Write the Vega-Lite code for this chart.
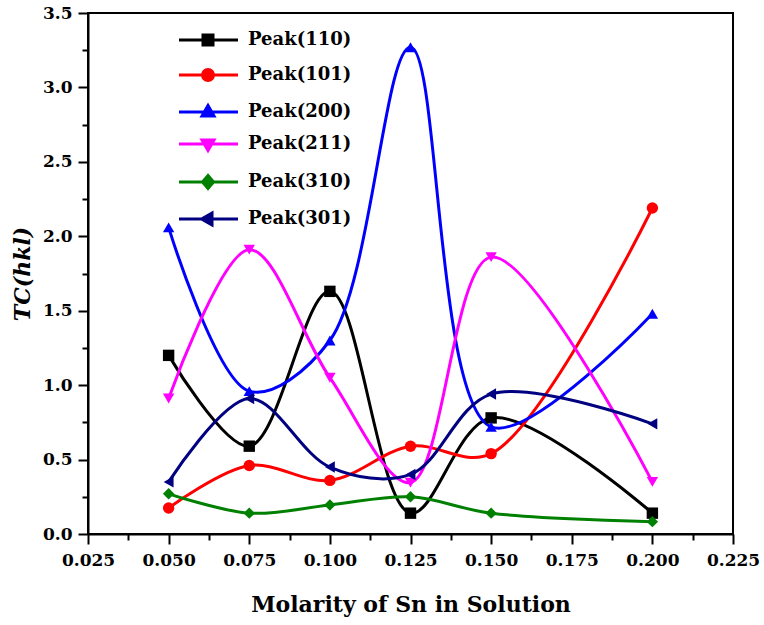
{
  "$schema": "https://vega.github.io/schema/vega-lite/v6.json",
  "width": 645,
  "height": 521,
  "autosize": {"type": "none"},
  "padding": {"left": 88, "top": 13, "right": 31, "bottom": 91},
  "background": "white",
  "config": {
    "view": {"stroke": "black", "strokeWidth": 2},
    "font": "DejaVu Serif",
    "axis": {
      "domainColor": "black",
      "domainWidth": 2,
      "tickColor": "black",
      "tickWidth": 2,
      "grid": false,
      "labelFont": "DejaVu Serif",
      "labelFontWeight": "bold",
      "labelFontSize": 17,
      "labelColor": "black",
      "labelOverlap": false,
      "labelFlush": false,
      "titleFont": "DejaVu Serif",
      "titleFontWeight": "bold",
      "titleFontSize": 22,
      "titleColor": "black"
    }
  },
  "data": {
    "values": [
      {"molarity": 0.05, "peak": "Peak(110)", "tc": 1.20},
      {"molarity": 0.075, "peak": "Peak(110)", "tc": 0.59},
      {"molarity": 0.1, "peak": "Peak(110)", "tc": 1.63},
      {"molarity": 0.125, "peak": "Peak(110)", "tc": 0.14},
      {"molarity": 0.15, "peak": "Peak(110)", "tc": 0.78},
      {"molarity": 0.2, "peak": "Peak(110)", "tc": 0.14},

      {"molarity": 0.05, "peak": "Peak(101)", "tc": 0.175},
      {"molarity": 0.075, "peak": "Peak(101)", "tc": 0.46},
      {"molarity": 0.1, "peak": "Peak(101)", "tc": 0.36},
      {"molarity": 0.125, "peak": "Peak(101)", "tc": 0.59},
      {"molarity": 0.15, "peak": "Peak(101)", "tc": 0.54},
      {"molarity": 0.2, "peak": "Peak(101)", "tc": 2.19},

      {"molarity": 0.05, "peak": "Peak(200)", "tc": 2.06},
      {"molarity": 0.075, "peak": "Peak(200)", "tc": 0.96},
      {"molarity": 0.1, "peak": "Peak(200)", "tc": 1.30},
      {"molarity": 0.125, "peak": "Peak(200)", "tc": 3.27},
      {"molarity": 0.15, "peak": "Peak(200)", "tc": 0.72},
      {"molarity": 0.2, "peak": "Peak(200)", "tc": 1.48},

      {"molarity": 0.05, "peak": "Peak(211)", "tc": 0.91},
      {"molarity": 0.075, "peak": "Peak(211)", "tc": 1.91},
      {"molarity": 0.1, "peak": "Peak(211)", "tc": 1.05},
      {"molarity": 0.125, "peak": "Peak(211)", "tc": 0.345},
      {"molarity": 0.15, "peak": "Peak(211)", "tc": 1.86},
      {"molarity": 0.2, "peak": "Peak(211)", "tc": 0.35},

      {"molarity": 0.05, "peak": "Peak(310)", "tc": 0.27},
      {"molarity": 0.075, "peak": "Peak(310)", "tc": 0.14},
      {"molarity": 0.1, "peak": "Peak(310)", "tc": 0.195},
      {"molarity": 0.125, "peak": "Peak(310)", "tc": 0.25},
      {"molarity": 0.15, "peak": "Peak(310)", "tc": 0.14},
      {"molarity": 0.2, "peak": "Peak(310)", "tc": 0.083},

      {"molarity": 0.05, "peak": "Peak(301)", "tc": 0.35},
      {"molarity": 0.075, "peak": "Peak(301)", "tc": 0.91},
      {"molarity": 0.1, "peak": "Peak(301)", "tc": 0.45},
      {"molarity": 0.125, "peak": "Peak(301)", "tc": 0.40},
      {"molarity": 0.15, "peak": "Peak(301)", "tc": 0.94},
      {"molarity": 0.2, "peak": "Peak(301)", "tc": 0.74}
    ]
  },
  "encoding": {
    "x": {
      "field": "molarity",
      "type": "quantitative",
      "scale": {"domain": [0.025, 0.225], "nice": false, "zero": false},
      "axis": {
        "title": "Molarity of Sn in Solution",
        "values": [0.025, 0.0375, 0.05, 0.0625, 0.075, 0.0875, 0.1, 0.1125, 0.125, 0.1375, 0.15, 0.1625, 0.175, 0.1875, 0.2, 0.2125, 0.225],
        "labelExpr": "abs(datum.value * 40 - round(datum.value * 40)) < 0.001 ? format(datum.value, '.3f') : ''",
        "tickSize": {"condition": {"test": "abs(datum.value * 40 - round(datum.value * 40)) < 0.001", "value": 10}, "value": 6},
        "labelPadding": 8,
        "titlePadding": 26
      }
    },
    "y": {
      "field": "tc",
      "type": "quantitative",
      "scale": {"domain": [0, 3.5], "nice": false},
      "axis": {
        "title": "TC(hkl)",
        "titleFontStyle": "italic",
        "titleFontSize": 22,
        "values": [0, 0.25, 0.5, 0.75, 1, 1.25, 1.5, 1.75, 2, 2.25, 2.5, 2.75, 3, 3.25, 3.5],
        "labelExpr": "abs(datum.value * 2 - round(datum.value * 2)) < 0.001 ? format(datum.value, '.1f') : ''",
        "tickSize": {"condition": {"test": "abs(datum.value * 2 - round(datum.value * 2)) < 0.001", "value": 10}, "value": 6},
        "labelPadding": 6,
        "titlePadding": 8
      }
    }
  },
  "layer": [
    {
      "mark": {"type": "line", "interpolate": "catmull-rom", "strokeWidth": 3},
      "encoding": {
        "color": {
          "field": "peak",
          "type": "nominal",
          "scale": {
            "domain": ["Peak(110)", "Peak(101)", "Peak(200)", "Peak(211)", "Peak(310)", "Peak(301)"],
            "range": ["#000000", "#ff0000", "#0000ff", "#ff00ff", "#008000", "#000080"]
          },
          "legend": null
        }
      }
    },
    {
      "mark": {"type": "point", "filled": true, "size": 130, "opacity": 1},
      "encoding": {
        "color": {
          "field": "peak",
          "type": "nominal",
          "scale": {
            "domain": ["Peak(110)", "Peak(101)", "Peak(200)", "Peak(211)", "Peak(310)", "Peak(301)"],
            "range": ["#000000", "#ff0000", "#0000ff", "#ff00ff", "#008000", "#000080"]
          },
          "legend": null
        },
        "shape": {
          "field": "peak",
          "type": "nominal",
          "scale": {
            "domain": ["Peak(110)", "Peak(101)", "Peak(200)", "Peak(211)", "Peak(310)", "Peak(301)"],
            "range": ["square", "circle", "triangle-up", "triangle-down", "diamond", "triangle-left"]
          },
          "legend": null
        }
      }
    },
    {
      "transform": [{"filter": "false"}],
      "mark": {"type": "point", "filled": true, "size": 100, "opacity": 1},
      "encoding": {
        "fill": {
          "field": "peak",
          "type": "nominal",
          "scale": {
            "domain": ["Peak(110)", "Peak(101)", "Peak(200)", "Peak(211)", "Peak(310)", "Peak(301)"],
            "range": ["#000000", "#ff0000", "#0000ff", "#ff00ff", "#008000", "#000080"]
          },
          "legend": {
            "title": null,
            "orient": "none",
            "legendX": 111,
            "legendY": 18,
            "symbolSize": 100,
            "symbolStrokeWidth": 3,
            "symbolOpacity": 1,
            "labelOffset": 31,
            "labelFont": "DejaVu Serif",
            "labelFontWeight": "bold",
            "labelFontSize": 18,
            "labelColor": "black",
            "rowPadding": 12,
            "padding": 0
          }
        },
        "stroke": {
          "field": "peak",
          "type": "nominal",
          "scale": {
            "domain": ["Peak(110)", "Peak(101)", "Peak(200)", "Peak(211)", "Peak(310)", "Peak(301)"],
            "range": ["#000000", "#ff0000", "#0000ff", "#ff00ff", "#008000", "#000080"]
          },
          "legend": {
            "title": null,
            "orient": "none",
            "legendX": 111,
            "legendY": 18,
            "symbolSize": 100,
            "symbolStrokeWidth": 3,
            "symbolOpacity": 1,
            "labelOffset": 31,
            "labelFont": "DejaVu Serif",
            "labelFontWeight": "bold",
            "labelFontSize": 18,
            "labelColor": "black",
            "rowPadding": 12,
            "padding": 0
          }
        },
        "shape": {
          "field": "peak",
          "type": "nominal",
          "scale": {
            "domain": ["Peak(110)", "Peak(101)", "Peak(200)", "Peak(211)", "Peak(310)", "Peak(301)"],
            "range": [
              "M-5.8,0H6M-1,-1H1V1H-1Z",
              "M-5.8,0H6M-1.1,0A1.1,1.1 0 1,0 1.1,0A1.1,1.1 0 1,0 -1.1,0Z",
              "M-5.8,0H6M0,-1.3L1.2,0.8H-1.2Z",
              "M-5.8,0H6M0,1.3L1.2,-0.8H-1.2Z",
              "M-5.8,0H6M0,-1.3L1.1,0L0,1.3L-1.1,0Z",
              "M-5.8,0H6M-1.3,0L0.8,-1.2V1.2Z"
            ]
          },
          "legend": {
            "title": null,
            "orient": "none",
            "legendX": 111,
            "legendY": 18,
            "symbolSize": 100,
            "symbolStrokeWidth": 3,
            "symbolOpacity": 1,
            "labelOffset": 31,
            "labelFont": "DejaVu Serif",
            "labelFontWeight": "bold",
            "labelFontSize": 18,
            "labelColor": "black",
            "rowPadding": 12,
            "padding": 0
          }
        }
      }
    }
  ],
  "resolve": {
    "scale": {"color": "independent", "shape": "independent", "fill": "independent", "stroke": "independent"}
  }
}
